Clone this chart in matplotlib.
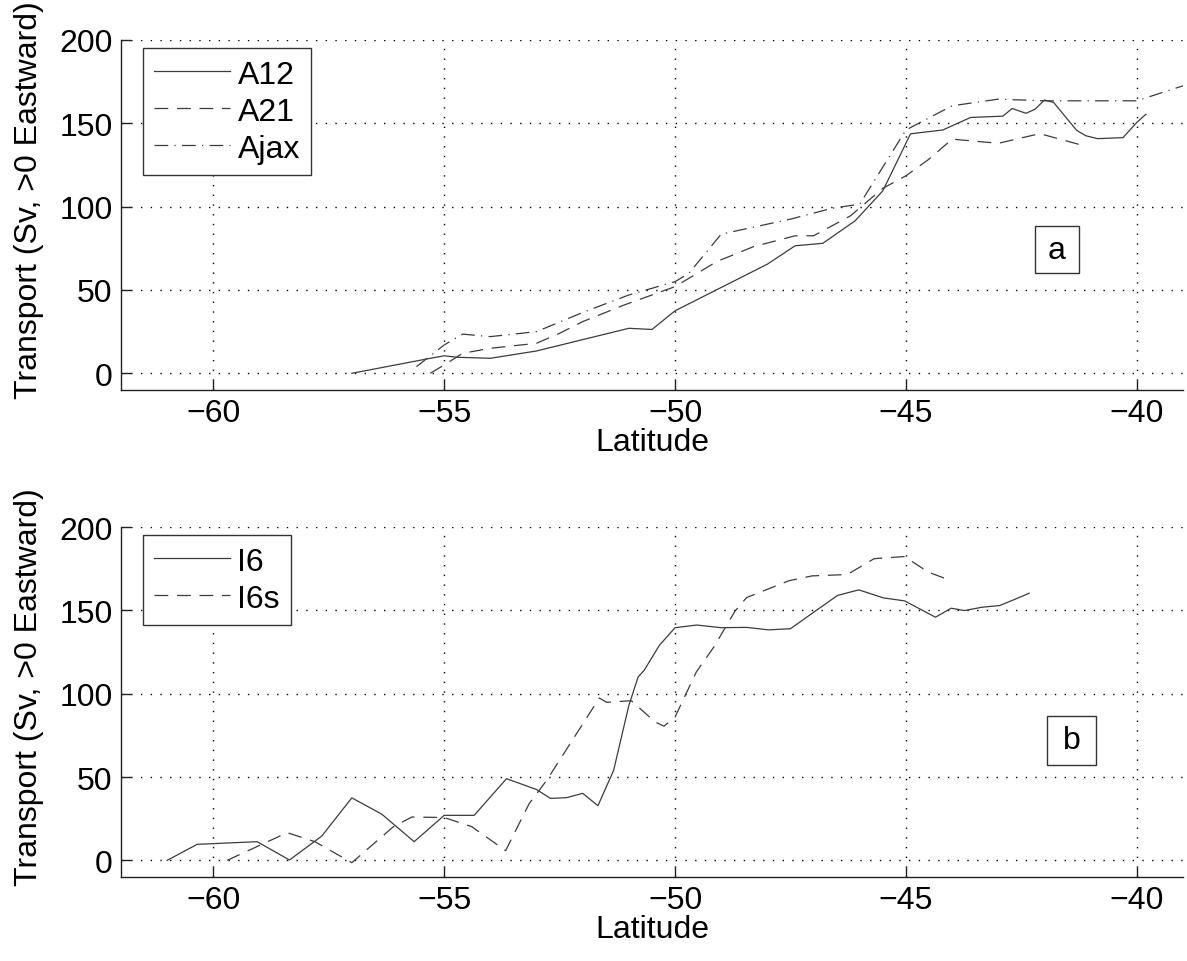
import numpy as np
import matplotlib
matplotlib.use("Agg")
import matplotlib.pyplot as plt
from matplotlib.patches import Rectangle

plt.rcParams['font.family'] = ['Liberation Sans', 'DejaVu Sans']

# panel a: Atlantic sections
lat_a12 = [-57.0, -55.3, -55.0, -54.7, -54.0, -53.0, -51.0, -50.5, -50.0, -49.0,
           -48.0, -47.4, -46.8, -46.1, -45.5, -44.9, -44.2, -43.6, -42.9, -42.7,
           -42.4, -42.2, -42.0, -41.8, -41.3, -41.1, -40.85, -40.3, -40.0, -39.8]
sv_a12 = [0, 9, 10.5, 9.6, 9, 13.4, 27, 26.3, 37.5, 51.5,
          65.5, 76.5, 78, 91.5, 109.5, 143.7, 146, 153.5, 154.3, 158.9,
          156, 158.5, 164, 162.5, 145.7, 142.5, 140.8, 141.4, 150.5, 155.5]

lat_a21 = [-55.3, -55.0, -54.6, -54.0, -53.0, -52.5, -52.0, -51.1, -50.0, -49.1,
           -48.3, -47.4, -47.0, -46.2, -45.5, -45.0, -44.5, -44.0, -43.0, -42.1, -41.1]
sv_a21 = [0, 5, 12, 15, 18, 24, 31, 41, 52, 67,
          76, 82.5, 82.5, 94.5, 111, 118.5, 128.5, 140.5, 138, 143.8, 136.2]

lat_ajax = [-55.6, -55.0, -54.6, -54.0, -53.0, -52.0, -51.0, -50.0, -49.7, -49.0,
            -48.5, -47.5, -46.6, -46.0, -45.0, -44.0, -43.0, -42.0, -41.0, -40.0, -39.0]
sv_ajax = [4, 17, 23.5, 22, 25, 36.5, 47, 55, 60, 83.5,
           86.5, 92.5, 99, 101.5, 146, 160.5, 164.5, 163.5, 163.5, 163.5, 172.5]

# panel b: Indian Ocean sections
lat_i6 = [-61.0, -60.35, -59.05, -58.35, -57.65, -57.0, -56.35, -55.65, -55.0, -54.35,
          -53.65, -53.0, -52.7, -52.35, -52.0, -51.67, -51.33, -51.0, -50.8, -50.67,
          -50.34, -50.0, -49.53, -49.0, -48.45, -47.98, -47.5, -46.94, -46.48, -46.02,
          -45.49, -45.03, -44.36, -44.02, -43.73, -43.35, -42.97, -42.67, -42.33]
sv_i6 = [0, 9.6, 11.2, 0.2, 14.6, 37.5, 27.7, 11.2, 27, 27,
         49, 42.5, 37.2, 37.6, 40.2, 32.8, 54, 93, 110, 114,
         129, 139.6, 141.2, 139.6, 139.8, 138.3, 139, 150, 159, 162.3,
         157.5, 155.7, 145.9, 151.3, 149.9, 151.9, 152.9, 156.3, 160.3]

lat_i6s = [-59.7, -58.4, -57.8, -57.0, -56.1, -55.7, -55.0, -54.4, -53.67, -53.16,
           -52.78, -51.64, -51.48, -50.95, -50.43, -50.24, -50.0, -49.54, -49.16, -48.7,
           -48.45, -47.53, -47.03, -46.27, -45.69, -45.03, -44.52, -44.02]
sv_i6s = [0, 16.6, 11.2, -1.4, 20.2, 26, 25.7, 20.2, 5.8, 34,
          48, 97.4, 94.8, 95.8, 83, 80.5, 86, 113, 128, 149.6,
          157.7, 167.8, 170.7, 171.5, 181, 182.3, 173, 167.8]

xticks = [-60, -55, -50, -45, -40]
yticks = [0, 50, 100, 150, 200]

line_col = '#3c3c3c'
fs = 23

fig = plt.figure(figsize=(11.87, 9.62), dpi=100)
ax1 = fig.add_axes([0.1019, 0.5936, 0.8947, 0.3638])
ax2 = fig.add_axes([0.1019, 0.0873, 0.8947, 0.3638])


def style_axes(ax):
    ax.set_xlim(-62, -39)
    ax.set_ylim(-10, 200)
    ax.set_xticks(xticks)
    ax.set_yticks(yticks)
    ax.grid(True, color='black', linestyle=(0, (1, 6)), linewidth=1.0)
    ax.spines['top'].set_visible(False)
    ax.spines['right'].set_visible(False)
    for s in ['left', 'bottom']:
        ax.spines[s].set_color('#222222')
        ax.spines[s].set_linewidth(1.0)
    ax.tick_params(direction='in', length=7, width=1.0, labelsize=fs,
                   color='#222222', pad=6)
    ax.set_xlabel('Latitude', fontsize=fs, labelpad=-1)
    ax.set_ylabel('Transport (Sv, >0 Eastward)', fontsize=fs)
    ax.yaxis.set_label_coords(-0.072, 0.545)


def add_legend(ax):
    leg = ax.legend(loc='upper left', bbox_to_anchor=(0.0207, 0.977), fontsize=fs,
                    handlelength=2.35, handletextpad=0.25, borderpad=0.36,
                    labelspacing=0.22, fancybox=False, framealpha=1, borderaxespad=0)
    leg.get_frame().set_edgecolor('#333333')
    leg.get_frame().set_linewidth(1.0)


def panel_tag(ax, x0, y0, w, h, s):
    ax.add_patch(Rectangle((x0, y0), w, h, facecolor='white', edgecolor='#333333',
                           lw=1.0, zorder=5))
    ax.text(x0 + w / 2, y0 + h / 2, s, fontsize=fs, ha='center', va='center', zorder=6)


style_axes(ax1)
ax1.plot(lat_a12, sv_a12, color=line_col, lw=0.9, linestyle='-', label='A12')
ax1.plot(lat_a21, sv_a21, color=line_col, lw=0.9, dashes=(11, 7), label='A21')
ax1.plot(lat_ajax, sv_ajax, color=line_col, lw=0.9, dashes=(11, 5, 1, 5), label='Ajax')
add_legend(ax1)
panel_tag(ax1, -42.21, 60.2, 0.96, 28, 'a')

style_axes(ax2)
ax2.plot(lat_i6, sv_i6, color=line_col, lw=0.9, linestyle='-', label='I6')
ax2.plot(lat_i6s, sv_i6s, color=line_col, lw=0.9, dashes=(11, 7), label='I6s')
add_legend(ax2)
panel_tag(ax2, -41.94, 57.5, 1.05, 29, 'b')

fig.savefig('out.png', dpi=100)
